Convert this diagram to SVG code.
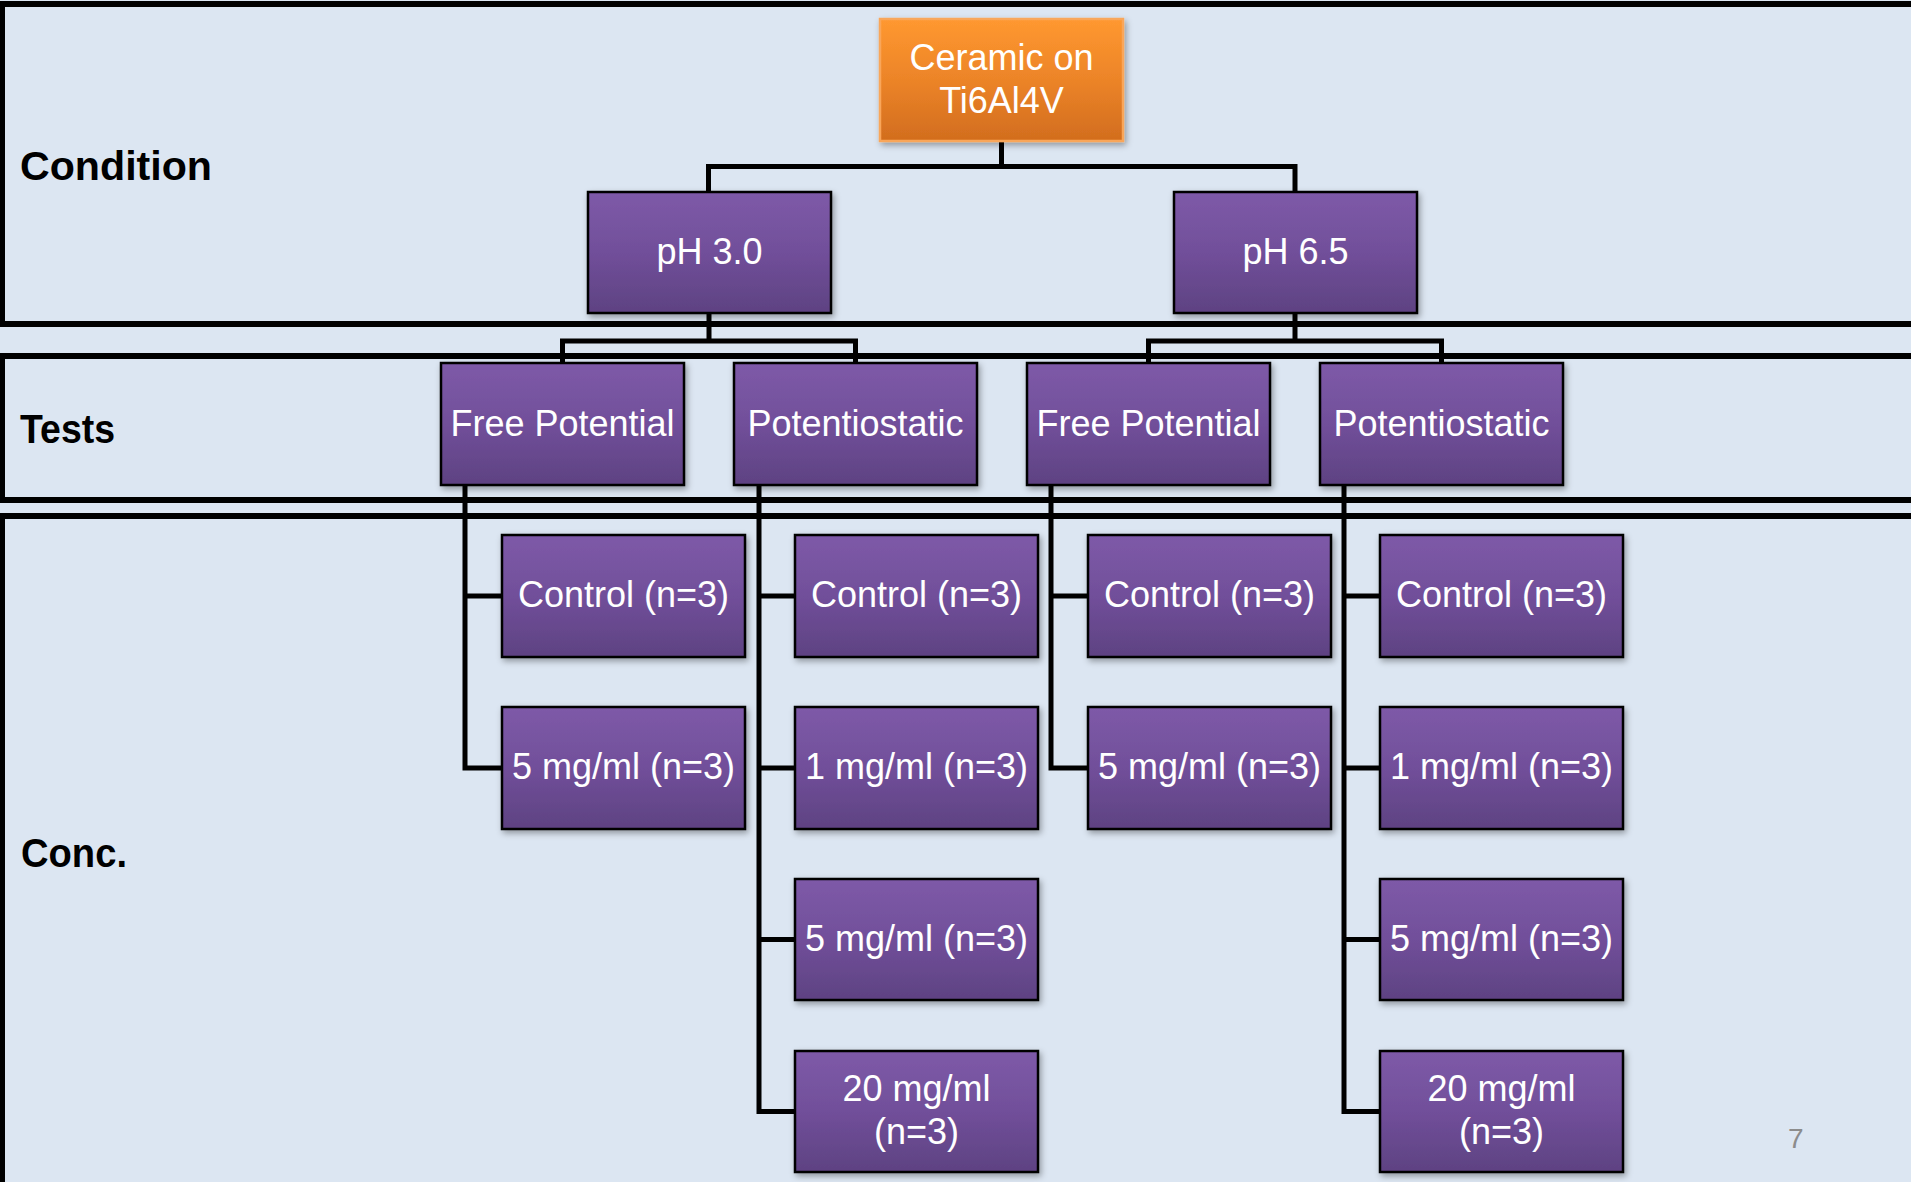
<svg xmlns="http://www.w3.org/2000/svg" width="1911" height="1182" viewBox="0 0 1911 1182">
  <defs>
    <linearGradient id="gPurple" x1="0" y1="0" x2="0" y2="1">
      <stop offset="0" stop-color="#7E5AA8"/>
      <stop offset="0.5" stop-color="#714F9A"/>
      <stop offset="1" stop-color="#5E4282"/>
    </linearGradient>
    <linearGradient id="gOrange" x1="0" y1="0" x2="0" y2="1">
      <stop offset="0" stop-color="#FF9830"/>
      <stop offset="0.5" stop-color="#EC8428"/>
      <stop offset="1" stop-color="#D26D1E"/>
    </linearGradient>
    <filter id="shadow" x="-10%" y="-10%" width="125%" height="130%">
      <feDropShadow dx="2" dy="3" stdDeviation="3" flood-color="#000" flood-opacity="0.35"/>
    </filter>
  </defs>
  <style>
    .panel { fill: none; stroke: #000; stroke-width: 6; }
    .lbl { font-family: "Liberation Sans", Arial, sans-serif; font-weight: bold; font-size: 40px; fill: #000; }
    .box { fill: url(#gPurple); stroke: #000; stroke-width: 2.5; filter: url(#shadow); }
    .obox { fill: url(#gOrange); stroke: #F9A65A; stroke-width: 2.5; filter: url(#shadow); }
    .t { font-family: "Liberation Sans", Arial, sans-serif; font-size: 36px; fill: #FFFFFF; text-anchor: middle; }
    .conn { fill: none; stroke: #000; stroke-width: 5; stroke-linejoin: miter; stroke-linecap: square; }
    .pg { font-family: "Liberation Sans", Arial, sans-serif; font-size: 28px; fill: #8C8C8C; }
  </style>

  <rect x="0" y="0" width="1911" height="1182" fill="#DCE6F2"/>

  <g id="panels">
    <rect class="panel" x="2" y="4" width="2000" height="320"/>
    <rect class="panel" x="2" y="356" width="2000" height="144"/>
    <rect class="panel" x="2" y="516" width="2000" height="800"/>
    <text class="lbl" x="20" y="180" textLength="192" lengthAdjust="spacingAndGlyphs">Condition</text>
    <text class="lbl" x="20" y="443" textLength="95" lengthAdjust="spacingAndGlyphs">Tests</text>
    <text class="lbl" x="21" y="867" textLength="106" lengthAdjust="spacingAndGlyphs">Conc.</text>
  </g>

  <g id="connectors">
    <path class="conn" d="M1001.5 141 V166.5 M708.5 192 V166.5 H1295 V192"/>
    <path class="conn" d="M709 313 V341 M562.5 363 V341 H855.5 V363"/>
    <path class="conn" d="M1295 313 V341 M1148.5 363 V341 H1441.5 V363"/>
    <path class="conn" d="M465 485 V768 H502 M465 596 H502"/>
    <path class="conn" d="M759 485 V1111.5 H795 M759 596 H795 M759 768 H795 M759 939.5 H795"/>
    <path class="conn" d="M1051 485 V768 H1088 M1051 596 H1088"/>
    <path class="conn" d="M1344 485 V1111.5 H1380 M1344 596 H1380 M1344 768 H1380 M1344 939.5 H1380"/>
  </g>

  <g id="n-ceramic">
    <rect class="obox" x="880" y="19" width="243" height="122"/>
    <text class="t" x="1001.5" y="70">Ceramic on</text>
    <text class="t" x="1001.5" y="113">Ti6Al4V</text>
  </g>

  <g id="n-ph30">
    <rect class="box" x="588" y="192" width="243" height="121"/>
    <text class="t" x="709.5" y="264">pH 3.0</text>
  </g>
  <g id="n-ph65">
    <rect class="box" x="1174" y="192" width="243" height="121"/>
    <text class="t" x="1295.5" y="264">pH 6.5</text>
  </g>

  <g id="n-fp1">
    <rect class="box" x="441" y="363" width="243" height="122"/>
    <text class="t" x="562.5" y="436">Free Potential</text>
  </g>
  <g id="n-ps1">
    <rect class="box" x="734" y="363" width="243" height="122"/>
    <text class="t" x="855.5" y="436">Potentiostatic</text>
  </g>
  <g id="n-fp2">
    <rect class="box" x="1027" y="363" width="243" height="122"/>
    <text class="t" x="1148.5" y="436">Free Potential</text>
  </g>
  <g id="n-ps2">
    <rect class="box" x="1320" y="363" width="243" height="122"/>
    <text class="t" x="1441.5" y="436">Potentiostatic</text>
  </g>

  <g id="n-fp1-control">
    <rect class="box" x="502" y="535" width="243" height="122"/>
    <text class="t" x="623.5" y="607">Control (n=3)</text>
  </g>
  <g id="n-fp1-5">
    <rect class="box" x="502" y="707" width="243" height="122"/>
    <text class="t" x="623.5" y="779">5 mg/ml (n=3)</text>
  </g>

  <g id="n-ps1-control">
    <rect class="box" x="795" y="535" width="243" height="122"/>
    <text class="t" x="916.5" y="607">Control (n=3)</text>
  </g>
  <g id="n-ps1-1">
    <rect class="box" x="795" y="707" width="243" height="122"/>
    <text class="t" x="916.5" y="779">1 mg/ml (n=3)</text>
  </g>
  <g id="n-ps1-5">
    <rect class="box" x="795" y="879" width="243" height="121"/>
    <text class="t" x="916.5" y="951">5 mg/ml (n=3)</text>
  </g>
  <g id="n-ps1-20">
    <rect class="box" x="795" y="1051" width="243" height="121"/>
    <text class="t" x="916.5" y="1101">20 mg/ml</text>
    <text class="t" x="916.5" y="1144">(n=3)</text>
  </g>

  <g id="n-fp2-control">
    <rect class="box" x="1088" y="535" width="243" height="122"/>
    <text class="t" x="1209.5" y="607">Control (n=3)</text>
  </g>
  <g id="n-fp2-5">
    <rect class="box" x="1088" y="707" width="243" height="122"/>
    <text class="t" x="1209.5" y="779">5 mg/ml (n=3)</text>
  </g>

  <g id="n-ps2-control">
    <rect class="box" x="1380" y="535" width="243" height="122"/>
    <text class="t" x="1501.5" y="607">Control (n=3)</text>
  </g>
  <g id="n-ps2-1">
    <rect class="box" x="1380" y="707" width="243" height="122"/>
    <text class="t" x="1501.5" y="779">1 mg/ml (n=3)</text>
  </g>
  <g id="n-ps2-5">
    <rect class="box" x="1380" y="879" width="243" height="121"/>
    <text class="t" x="1501.5" y="951">5 mg/ml (n=3)</text>
  </g>
  <g id="n-ps2-20">
    <rect class="box" x="1380" y="1051" width="243" height="121"/>
    <text class="t" x="1501.5" y="1101">20 mg/ml</text>
    <text class="t" x="1501.5" y="1144">(n=3)</text>
  </g>

  <text class="pg" x="1788" y="1148">7</text>
</svg>
